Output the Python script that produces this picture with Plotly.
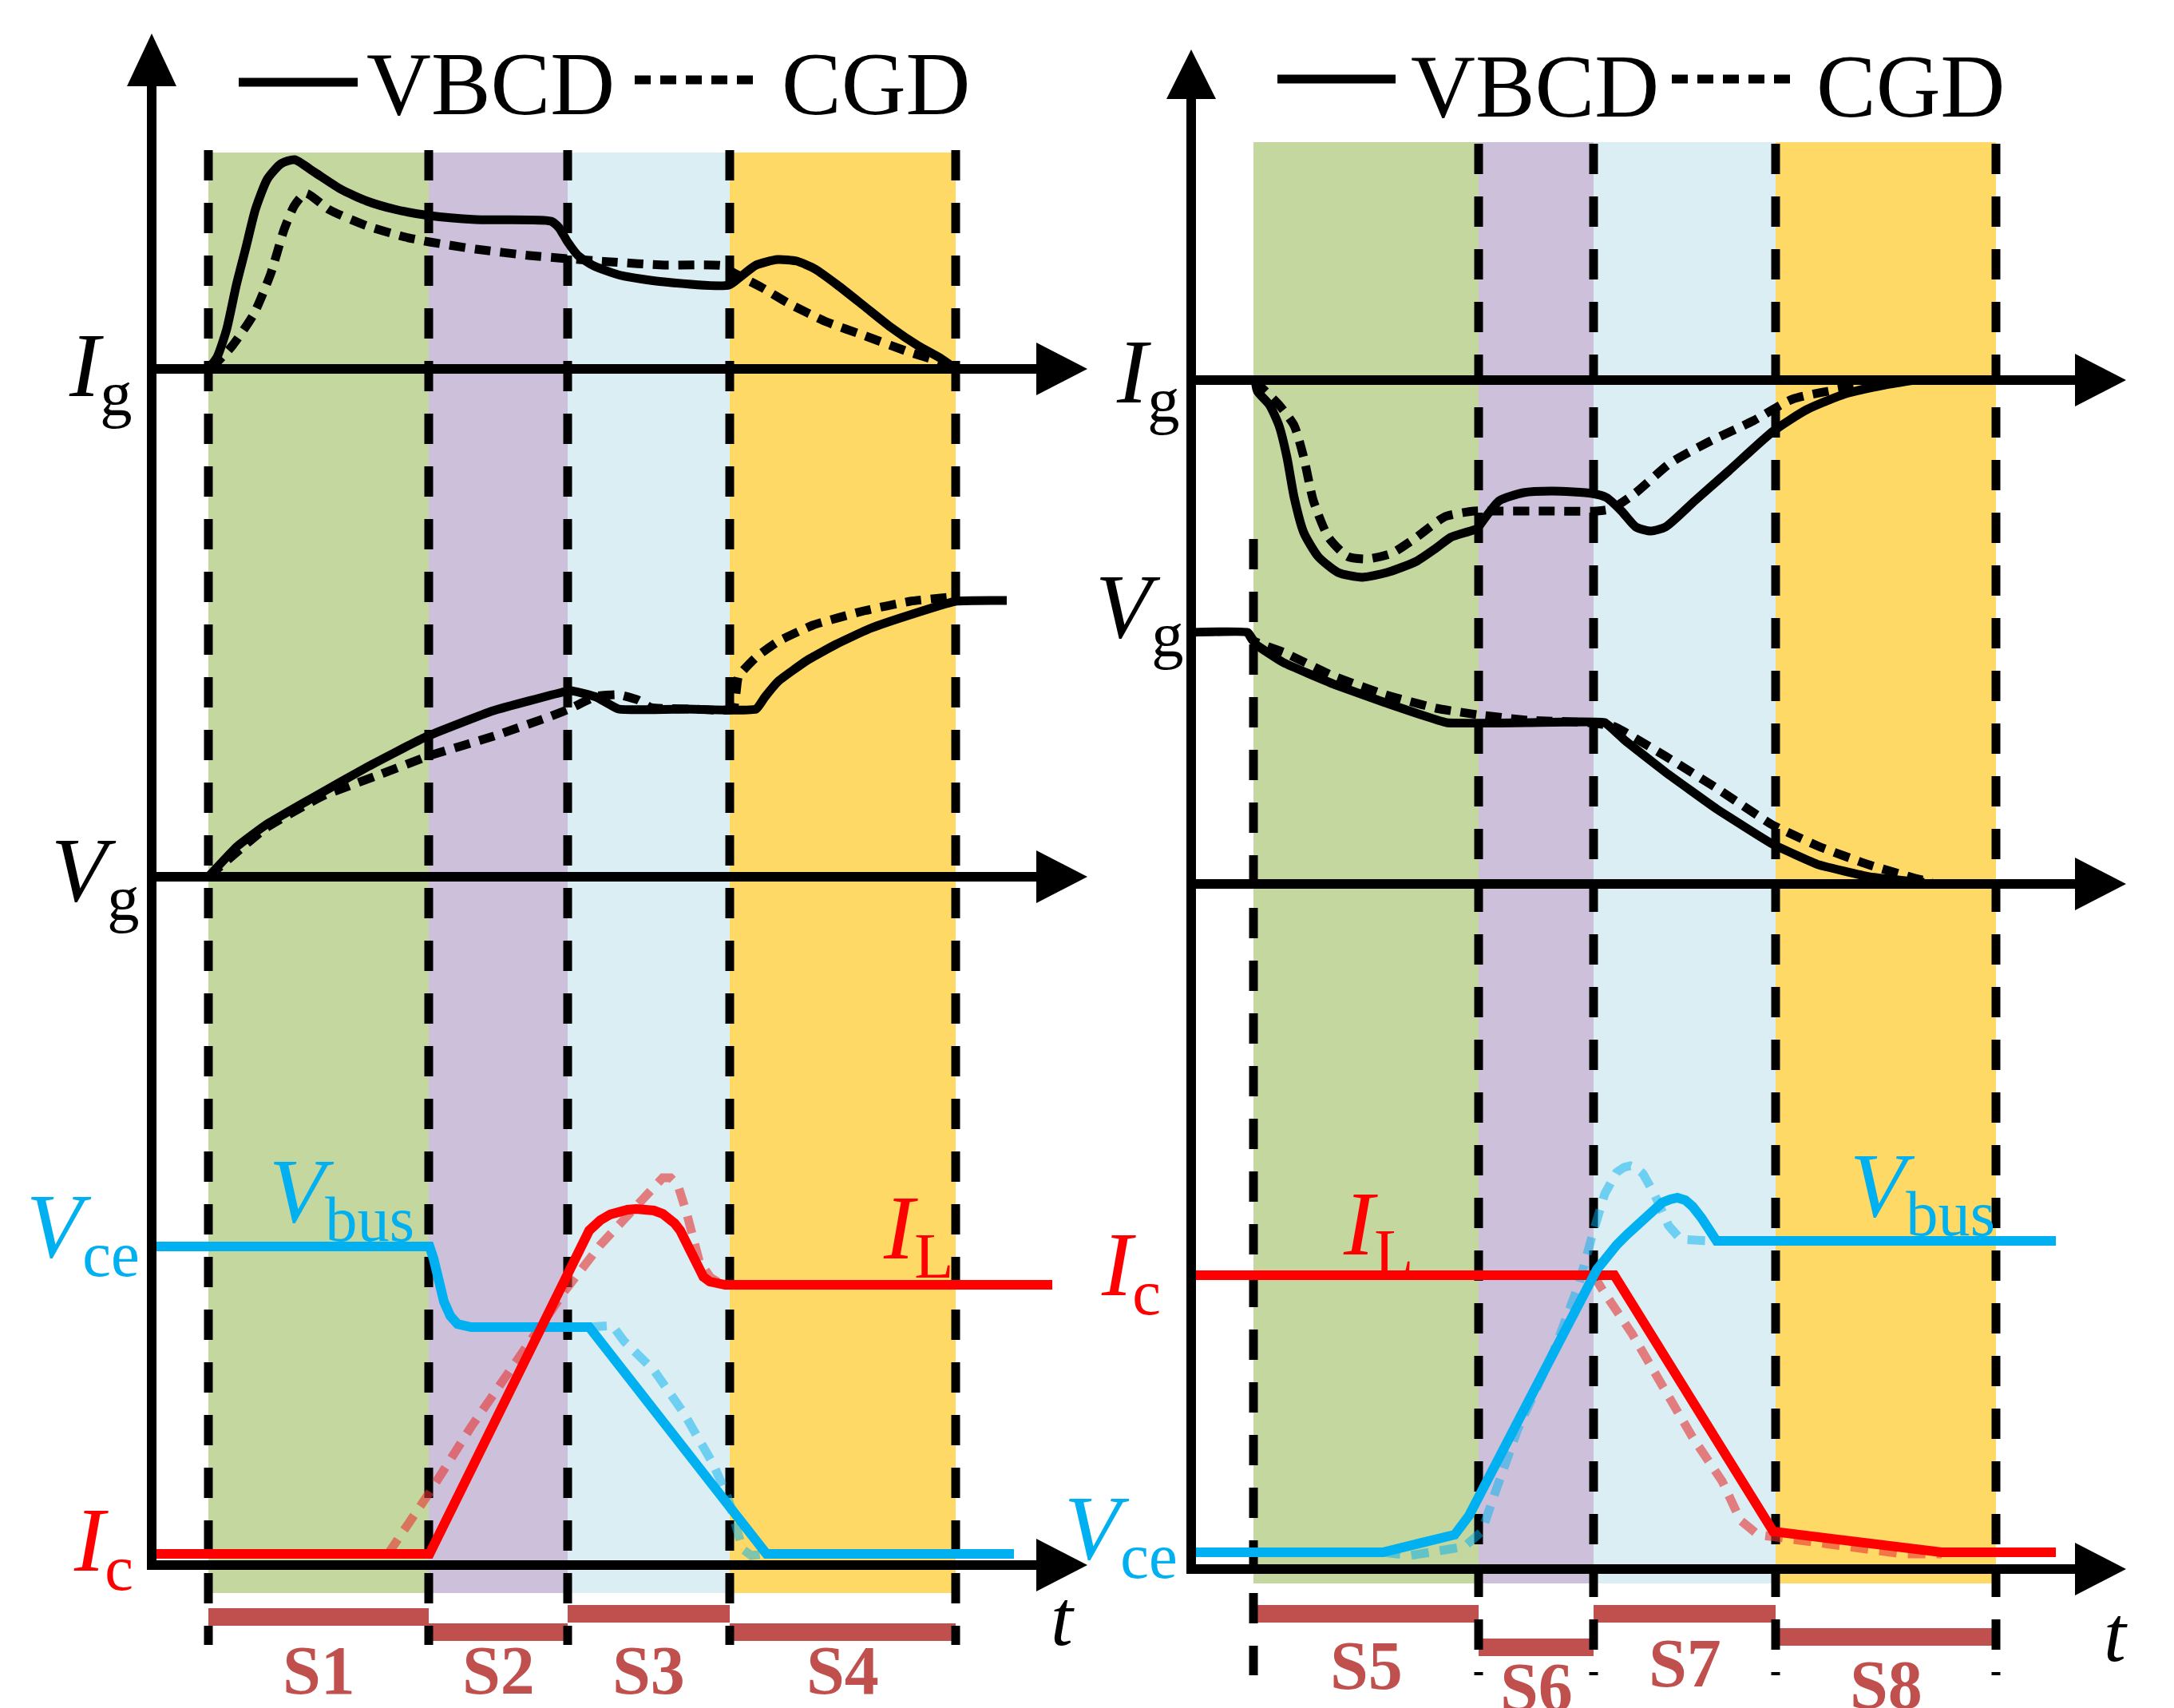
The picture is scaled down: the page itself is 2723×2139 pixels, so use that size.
import plotly.graph_objects as go

# ---------------------------------------------------------------- data
# time in arbitrary units (a.u.), waveforms in arbitrary units (a.u.)
# ---- turn-on (left panel)
stages_on = ["S1", "S2", "S3", "S4"]
bounds_on = [7.1, 34.7, 52.1, 72.4, 100.7]

ig_on_vbcd_t = [7.1, 8.2, 9.4, 10.6, 11.8, 13.0, 14.5, 16.2, 17.9, 20.3, 23.7, 27.0, 30.4, 34.8, 40.6, 50.0,
                51.0, 52.1, 53.4, 55.4, 58.8, 64.2, 72.3, 73.7, 75.7, 78.4, 80.8, 83.1, 85.9, 89.2, 92.6,
                96.0, 98.7, 100.7]
ig_on_vbcd = [0, 1.5, 5.0, 10.5, 15.2, 20.0, 23.8, 25.7, 26.2, 24.7, 22.5, 21.0, 20.0, 19.2, 18.7, 18.5,
              17.7, 15.9, 14.2, 12.9, 11.7, 10.9, 10.5, 11.5, 13.0, 13.7, 13.5, 12.5, 10.5, 7.9, 5.2,
              2.9, 1.4, 0]
ig_on_cgd_t = [7.4, 10.1, 12.8, 14.9, 16.6, 17.9, 19.3, 22.3, 27.0, 31.8, 34.8, 40.6, 47.3, 52.1, 57.5,
               64.2, 71.7, 72.6, 76.4, 79.8, 84.5, 89.2, 94.6, 98.7, 100.7]
ig_on_cgd = [0, 2.9, 6.9, 11.9, 17.5, 20.5, 22.0, 19.9, 17.9, 16.5, 15.9, 15.0, 14.2, 13.8, 13.4,
             13.0, 12.9, 12.2, 10.2, 8.2, 5.9, 4.2, 2.2, 0.9, 0]

vg_on_vbcd_t = [7.1, 10.7, 14.3, 20.0, 27.1, 34.3, 42.8, 51.4, 52.5, 55.7, 58.5, 67.0, 75.7, 76.8, 78.5,
                82.1, 85.7, 90.0, 95.0, 100.7, 107.1]
vg_on_vbcd = [0, 3.8, 6.5, 9.8, 13.8, 17.5, 20.8, 23.1, 23.3, 22.5, 21.0, 21.0, 21.0, 22.5, 24.5,
              27.1, 29.1, 31.1, 32.8, 34.5, 34.6]
vg_on_cgd_t = [7.1, 14.3, 21.4, 28.6, 34.6, 42.8, 50.0, 52.5, 55.7, 58.5, 61.0, 62.5, 68.0, 72.8, 73.5,
               75.7, 78.5, 82.8, 89.2, 95.0, 100.7]
vg_on_cgd = [0, 6.1, 10.1, 12.8, 15.1, 17.6, 20.1, 21.1, 22.6, 22.8, 22.1, 21.2, 21.0, 21.0, 25.1,
             27.5, 29.5, 31.5, 33.3, 34.5, 35.1]

vce_on_vbcd_t = [0, 34.8, 35.3, 35.9, 36.6, 37.4, 38.3, 40.0, 54.8, 77.0, 108.0]
vce_on_vbcd = [39.9, 39.9, 38.4, 35.6, 33.0, 31.2, 30.2, 29.8, 29.8, 1.4, 1.4]
vce_on_cgd_t = [54.8, 57.7, 59.2, 62.9, 66.6, 70.3, 72.2, 74.0, 75.1, 77.0]
vce_on_cgd = [29.8, 30.0, 28.0, 24.4, 19.1, 12.7, 8.4, 2.0, 1.2, 1.4]

ic_on_vbcd_t = [0, 34.8, 54.8, 56.2, 57.4, 58.5, 59.6, 60.7, 61.8, 62.9, 64.0, 64.8, 65.5, 66.2, 66.8,
                67.3, 67.9, 68.4, 69.1, 69.9, 70.8, 71.8, 112.8]
ic_on_vbcd = [1.4, 1.4, 41.9, 43.2, 43.9, 44.3, 44.5, 44.6, 44.6, 44.4, 44.0, 43.5, 42.8, 41.9, 40.7,
              39.4, 38.0, 36.9, 36.1, 35.5, 35.2, 35.1, 35.1]
ic_on_cgd_t = [29.6, 34.8, 40.0, 44.4, 51.8, 56.2, 60.7, 62.5, 64.0, 65.0, 65.9, 67.0, 67.7, 68.6,
               70.0, 71.5]
ic_on_cgd = [1.4, 9.1, 17.3, 23.7, 34.4, 40.1, 45.1, 47.0, 48.5, 48.5, 47.6, 44.1, 41.2, 38.0, 36.0, 35.1]

# ---- turn-off (right panel)
stages_off = ["S5", "S6", "S7", "S8"]
bounds_off = [7.8, 36.0, 50.4, 73.2, 100.8]

ig_off_vbcd_t = [8.0, 8.3, 9.8, 11.0, 12.0, 12.9, 14.1, 15.9, 18.4, 21.4, 24.5, 28.2, 30.6, 32.5, 34.3,
                 35.8, 36.7, 38.6, 41.6, 45.3, 50.2, 52.0, 53.9, 55.7, 57.6, 59.4, 63.1, 67.3, 72.9,
                 77.1, 82.0, 86.9, 90.6]
ig_off_vbcd = [0, -1.4, -3.1, -5.7, -9.7, -14.7, -19.1, -22.1, -24.1, -24.7, -24.1, -22.7, -21.1, -19.7,
               -19.1, -18.6, -17.4, -15.1, -14.1, -13.9, -14.2, -14.7, -16.4, -18.4, -18.9, -18.4,
               -15.1, -11.4, -6.4, -3.7, -1.7, -0.6, 0]
ig_off_cgd_t = [8.0, 8.6, 11.0, 12.9, 14.1, 15.3, 17.2, 19.6, 22.1, 25.1, 28.2, 31.8, 35.5, 38.6, 44.0,
                50.8, 52.7, 55.7, 60.0, 64.9, 70.4, 75.3, 81.4, 87.5, 90.6]
ig_off_cgd = [0, -0.7, -3.1, -5.7, -9.7, -15.1, -19.7, -22.1, -22.4, -21.7, -19.7, -17.1, -16.4, -16.4,
              -16.4, -16.4, -16.1, -14.1, -10.4, -7.7, -5.1, -2.4, -1.1, -0.2, 0]

vg_off_vbcd_t = [0, 7.1, 8.1, 11.6, 17.9, 24.3, 32.0, 42.0, 51.8, 54.3, 59.4, 65.8, 72.8, 78.6, 84.9,
                 89.4, 91.8]
vg_off_vbcd = [31.5, 31.5, 30.0, 27.7, 25.0, 22.7, 20.2, 20.2, 20.2, 18.0, 14.0, 9.4, 5.0, 2.4, 0.9,
               0.4, 0.2]
vg_off_cgd_t = [7.1, 7.7, 11.6, 17.9, 24.3, 30.7, 35.8, 42.2, 49.8, 53.0, 59.4, 65.8, 72.8, 78.6, 84.9,
                90.7, 92.8]
vg_off_cgd = [31.5, 30.5, 29.0, 26.0, 23.7, 22.0, 21.2, 20.5, 20.2, 19.7, 16.0, 12.0, 7.4, 4.7, 2.4,
              0.7, 0.2]

vce_off_vbcd_t = [0, 24.0, 33.0, 34.8, 50.8, 52.0, 53.3, 54.6, 56.0, 57.5, 59.0, 60.0, 60.9, 61.9, 62.8,
                  63.9, 65.0, 65.8, 108.3]
vce_off_vbcd = [2.1, 2.1, 4.3, 6.7, 37.5, 39.1, 40.6, 41.9, 43.3, 44.8, 45.9, 46.3, 46.5, 46.2, 45.4,
                44.0, 42.4, 41.1, 41.1]
vce_off_cgd_t = [24.0, 27.4, 34.2, 36.4, 37.9, 40.9, 45.5, 48.5, 50.3, 51.8, 53.3, 54.2, 55.0, 55.8,
                 56.6, 58.0, 59.8, 61.3, 65.0]
vce_off_cgd = [2.1, 1.7, 2.8, 4.7, 9.1, 17.5, 27.5, 35.5, 42.0, 47.0, 49.7, 50.3, 50.5, 50.2,
               49.5, 47.0, 43.0, 41.3, 41.1]

ic_off_vbcd_t = [0, 53.0, 72.9, 94.0, 108.3]
ic_off_vbcd = [36.8, 36.8, 4.7, 2.1, 2.1]
ic_off_cgd_t = [50.4, 51.5, 55.2, 59.0, 62.8, 66.5, 68.8, 71.0, 74.1, 81.6, 89.1, 94.0]
ic_off_cgd = [36.8, 35.0, 29.5, 22.8, 16.5, 11.0, 6.1, 4.3, 3.9, 2.8, 1.9, 1.9]

legend_names = ["VBCD", "CGD"]

# ---------------------------------------------------------------- styling / geometry
W, H = 2723, 2139
UNIT = 10.0           # pixels per data unit on every axis
FONT = "Liberation Serif, Times New Roman, serif"
BLACK = "#000000"
BLUE = "#00B0F0"
RED = "#FF0000"
BLUE_F = "rgba(0,176,240,0.5)"
RED_F = "rgba(232,50,50,0.6)"
BAR = "#C0504D"
SHADES = ["#C4D79F", "#CCC0DA", "#DAEEF3", "#FFD966"]


def fx(px):
    return px / W


def fy(py):
    return 1 - py / H


# panel geometry (pixel positions of the axes on the canvas)
P = {
    "on": dict(xa="x", org=190, d0=150, d1=1372, tip=1362, ys=["y", "y2", "y3"], base=[462, 1098, 1960],
               vtip=42, vbase=108, shade=(191, 1995), dash=(188, 2060), first_dash_top=188,
               bars=[2025, 2044, 2021, 2044], label_base=[2122] * 4,
               bounds=bounds_on, stages=stages_on, tlab=(1331, 2061)),
    "off": dict(xa="x2", org=1492, d0=1452, d1=2673, tip=2663, ys=["y4", "y5", "y6"], base=[476, 1107, 1965],
                vtip=62, vbase=124, shade=(178, 1983), dash=(180, 2098), first_dash_top=675,
                bars=[2021, 2063, 2021, 2050], label_base=[2116, 2143, 2113, 2140],
                bounds=bounds_off, stages=stages_off, tlab=(2650, 2081)),
}

layout = dict(width=W, height=H, margin=dict(l=0, r=0, t=0, b=0),
              paper_bgcolor="white", plot_bgcolor="rgba(0,0,0,0)", showlegend=False)

for key in ["on", "off"]:
    p = P[key]
    xname = "xaxis" if p["xa"] == "x" else "xaxis2"
    layout[xname] = dict(domain=[fx(p["d0"]), fx(p["d1"])],
                         range=[(p["d0"] - p["org"]) / UNIT, (p["d1"] - p["org"]) / UNIT],
                         visible=False, fixedrange=True)
    for yref, b in zip(p["ys"], p["base"]):
        yname = "yaxis" if yref == "y" else "yaxis" + yref[1:]
        layout[yname] = dict(domain=[0, 1], range=[-(H - b) / UNIT, b / UNIT], anchor=p["xa"],
                             visible=False, fixedrange=True)

shapes = []
annotations = []

for key in ["on", "off"]:
    p = P[key]
    xa = p["xa"]
    bnd = p["bounds"]
    # shaded stage areas
    for i in range(4):
        shapes.append(dict(type="rect", xref=xa, yref="paper", x0=bnd[i], x1=bnd[i + 1],
                           y0=fy(p["shade"][1]), y1=fy(p["shade"][0]),
                           fillcolor=SHADES[i], line=dict(width=0), layer="below"))
    # stage bars
    for i in range(4):
        yc = p["bars"][i]
        shapes.append(dict(type="rect", xref=xa, yref="paper", x0=bnd[i], x1=bnd[i + 1],
                           y0=fy(yc + 11), y1=fy(yc - 11), fillcolor=BAR, line=dict(width=0),
                           layer="below"))
    # dashed stage boundaries
    for i, b in enumerate(bnd):
        top = p["first_dash_top"] if i == 0 else p["dash"][0]
        shapes.append(dict(type="line", xref=xa, yref="paper", x0=b, x1=b,
                           y0=fy(top), y1=fy(p["dash"][1]),
                           line=dict(color=BLACK, width=11, dash="38px,28px"), layer="below"))
    # horizontal axes with arrow heads
    tend = (p["tip"] - p["org"]) / UNIT
    for yref in p["ys"]:
        shapes.append(dict(type="line", xref=xa, yref=yref, x0=-0.6, x1=tend - 5.5, y0=0, y1=0,
                           line=dict(color=BLACK, width=12), layer="above"))
        shapes.append(dict(type="path", xref=xa, yref=yref,
                           path=f"M {tend},0 L {tend - 6.4},3.3 L {tend - 6.4},-3.3 Z",
                           fillcolor=BLACK, line=dict(width=0), layer="above"))
    # vertical axis with arrow head
    shapes.append(dict(type="line", xref=xa, yref="paper", x0=0, x1=0,
                       y0=fy(p["base"][2] + 6), y1=fy(p["vbase"] - 4),
                       line=dict(color=BLACK, width=12), layer="above"))
    shapes.append(dict(type="path", xref=xa, yref="paper",
                       path=f"M 0,{fy(p['vtip'])} L -3.1,{fy(p['vbase'])} L 3.1,{fy(p['vbase'])} Z",
                       fillcolor=BLACK, line=dict(width=0), layer="above"))
    # stage labels
    for i, s in enumerate(p["stages"]):
        annotations.append(dict(text=f"<b>{s}</b>", xref=xa, yref="paper",
                                x=(bnd[i] + bnd[i + 1]) / 2, y=fy(p["label_base"][i] + 18.6),
                                xanchor="center", yanchor="bottom", showarrow=False,
                                borderpad=0, font=dict(family=FONT, size=86, color=BAR)))
    # time label
    annotations.append(dict(text="<i>t</i>", xref=xa, yref="paper",
                            x=(p["tlab"][0] - p["org"]) / UNIT, y=fy(p["tlab"][1] + 22),
                            xanchor="center", yanchor="bottom", showarrow=False, borderpad=0,
                            font=dict(family=FONT, size=100, color=BLACK)))

# legend samples
for (sx0, sx1, sy, dx0, dx1, dy, tx1, tx2, tb) in [
        (299, 448, 103, 795, 946, 100, 458, 978, 144),
        (1600, 1748, 99, 2094, 2243, 99, 1766, 2274, 147)]:
    shapes.append(dict(type="line", xref="paper", yref="paper", x0=fx(sx0), x1=fx(sx1),
                       y0=fy(sy), y1=fy(sy), line=dict(color=BLACK, width=11), layer="above"))
    shapes.append(dict(type="line", xref="paper", yref="paper", x0=fx(dx0), x1=fx(dx1),
                       y0=fy(dy), y1=fy(dy), line=dict(color=BLACK, width=11, dash="20px,12px"),
                       layer="above"))
    for name, tx in zip(legend_names, [tx1, tx2]):
        annotations.append(dict(text=name, xref="paper", yref="paper", x=fx(tx), y=fy(tb + 24),
                                xanchor="left", yanchor="bottom", showarrow=False, borderpad=0,
                                font=dict(family=FONT, size=112, color=BLACK)))

# signal labels: (html, x px, baseline px, anchor, colour)
labels = [
    ("<i>I</i><sub>g</sub>", 167, 497, "right", BLACK),
    ("<i>V</i><sub>g</sub>", 176, 1129, "right", BLACK),
    ("<i>V</i><sub>ce</sub>", 176, 1575, "right", BLUE),
    ("<i>I</i><sub>c</sub>", 168, 1968, "right", RED),
    ("<i>V</i><sub>bus</sub>", 336, 1531, "left", BLUE),
    ("<i>I</i><sub>L</sub>", 1105, 1577, "left", RED),
    ("<i>I</i><sub>g</sub>", 1479, 505, "right", BLACK),
    ("<i>V</i><sub>g</sub>", 1484, 799, "right", BLACK),
    ("<i>I</i><sub>c</sub>", 1455, 1623, "right", RED),
    ("<i>I</i><sub>L</sub>", 1681, 1572, "left", RED),
    ("<i>V</i><sub>bus</sub>", 2316, 1524, "left", BLUE),
    ("<i>V</i><sub>ce</sub>", 1476, 1953, "right", BLUE),
]
for txt, lx, lb, anc, col in labels:
    annotations.append(dict(text=txt, xref="paper", yref="paper", x=fx(lx), y=fy(lb + 41),
                            xanchor=anc, yanchor="bottom", showarrow=False, borderpad=0,
                            font=dict(family=FONT, size=115, color=col)))

layout["shapes"] = shapes
layout["annotations"] = annotations

fig = go.Figure(layout=layout)


def add(t, v, xa, ya, color, width, dash=None, shape="spline", smoothing=0.6):
    fig.add_trace(go.Scatter(x=t, y=v, xaxis=xa, yaxis=ya, mode="lines", hoverinfo="skip",
                             line=dict(color=color, width=width, dash=dash, shape=shape,
                                       smoothing=smoothing if shape == "spline" else None)))


BDASH = "20px,12px"
CDASH = "22px,14px"
LW = 11
CW = 12
# left panel
add(ig_on_cgd_t, ig_on_cgd, "x", "y", BLACK, LW, BDASH)
add(ig_on_vbcd_t, ig_on_vbcd, "x", "y", BLACK, LW)
add(vg_on_cgd_t, vg_on_cgd, "x", "y2", BLACK, LW, BDASH, smoothing=0.4)
add(vg_on_vbcd_t, vg_on_vbcd, "x", "y2", BLACK, LW, smoothing=0.4)
add(vce_on_cgd_t, vce_on_cgd, "x", "y3", BLUE_F, LW, CDASH, shape="linear")
add(ic_on_cgd_t, ic_on_cgd, "x", "y3", RED_F, LW, CDASH, shape="linear")
add(vce_on_vbcd_t, vce_on_vbcd, "x", "y3", BLUE, CW, shape="linear")
add(ic_on_vbcd_t, ic_on_vbcd, "x", "y3", RED, CW, shape="linear")
# right panel
add(ig_off_cgd_t, ig_off_cgd, "x2", "y4", BLACK, LW, BDASH)
add(ig_off_vbcd_t, ig_off_vbcd, "x2", "y4", BLACK, LW)
add(vg_off_cgd_t, vg_off_cgd, "x2", "y5", BLACK, LW, BDASH, smoothing=0.4)
add(vg_off_vbcd_t, vg_off_vbcd, "x2", "y5", BLACK, LW, smoothing=0.3)
add(ic_off_cgd_t, ic_off_cgd, "x2", "y6", RED_F, LW, CDASH, shape="linear")
add(vce_off_cgd_t, vce_off_cgd, "x2", "y6", BLUE_F, LW, CDASH, shape="linear")
add(ic_off_vbcd_t, ic_off_vbcd, "x2", "y6", RED, CW, shape="linear")
add(vce_off_vbcd_t, vce_off_vbcd, "x2", "y6", BLUE, CW, shape="linear")

fig.write_html("out.html")
